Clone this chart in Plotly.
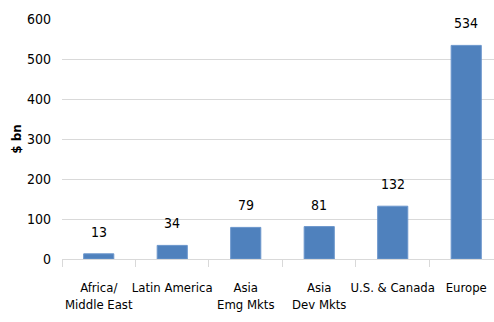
import plotly.graph_objects as go

regions = ["Africa/<br>Middle East", "Latin America", "Asia<br>Emg Mkts",
           "Asia<br>Dev Mkts", "U.S. & Canada", "Europe"]
values = [13, 34, 79, 81, 132, 534]
y_ticks = [0, 100, 200, 300, 400, 500, 600]

FONT = "DejaVu Sans Condensed, Liberation Sans Narrow, sans-serif"
GRID = "#d9d9d9"

fig = go.Figure(
    go.Bar(
        x=regions,
        y=values,
        width=0.41,
        marker=dict(color="#4f81bd", line=dict(color="#6b96cc", width=1)),
        cliponaxis=False,
    )
)

# value labels floating above each bar
for cat, val in zip(regions, values):
    fig.add_annotation(
        x=cat, y=val, text=str(val), showarrow=False,
        yanchor="bottom", yshift=12,
        font=dict(family=FONT, size=14, color="#000000"),
    )

fig.update_layout(
    width=494,
    height=322,
    margin=dict(l=62, r=0, t=19, b=63, autoexpand=False),
    paper_bgcolor="white",
    plot_bgcolor="white",
    showlegend=False,
    font=dict(family=FONT, size=13, color="#000000"),
)

fig.update_xaxes(
    type="category",
    range=[-0.5, 5.378],
    showgrid=False,
    showline=True,
    linecolor=GRID,
    linewidth=1,
    ticks="outside",
    tickson="boundaries",
    ticklen=7,
    tickcolor=GRID,
    tickangle=0,
    automargin=False,
    ticklabelstandoff=16,
    tickfont=dict(family=FONT, size=13),
)

fig.update_yaxes(
    range=[0, 600],
    tickvals=y_ticks,
    ticktext=[str(t) for t in y_ticks],
    showgrid=True,
    gridcolor=GRID,
    gridwidth=1,
    zeroline=False,
    showline=False,
    ticks="",
    ticklabelstandoff=10,
    automargin=False,
    tickfont=dict(family=FONT, size=14),
    title=dict(text="<b>$ bn</b>", font=dict(family="DejaVu Sans, sans-serif", size=12), standoff=2),
)

fig.write_html("out.html")
